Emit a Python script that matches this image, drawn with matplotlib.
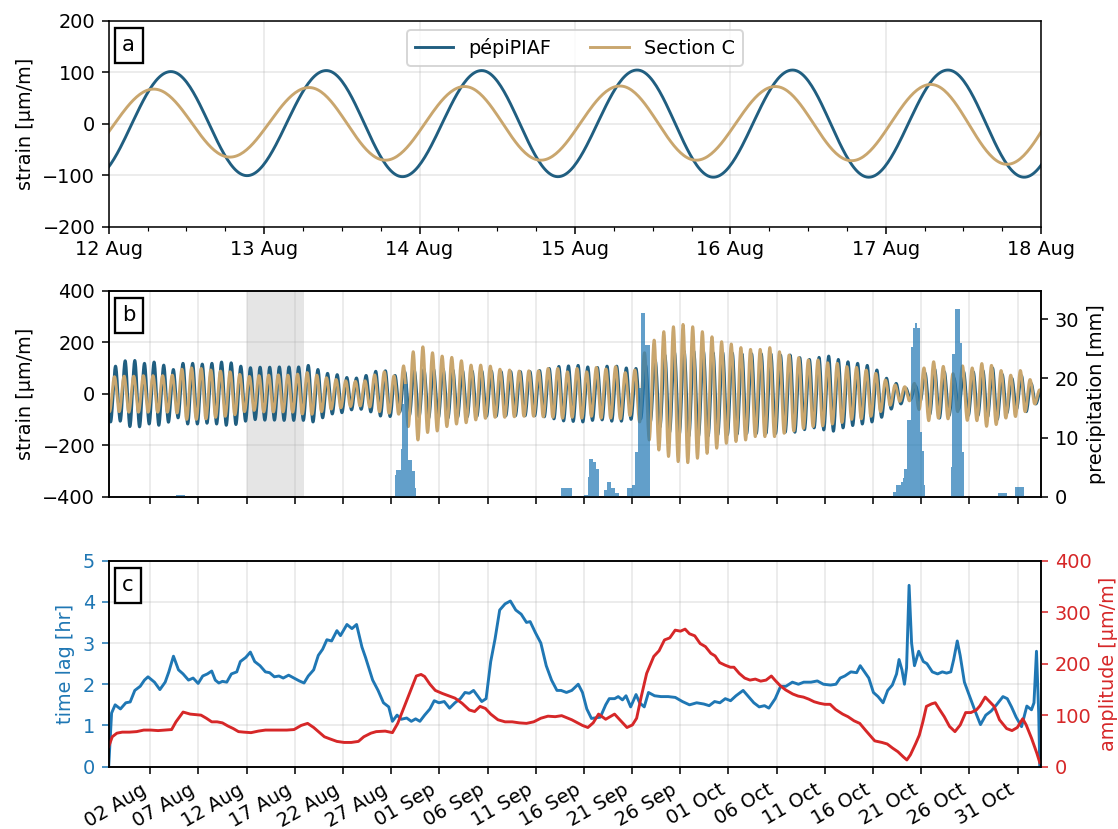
import numpy as np
import matplotlib
matplotlib.use('Agg')
import matplotlib.pyplot as plt
import matplotlib.dates as mdates

# all times are days since 2021-07-28 00:00
t0 = mdates.date2num(np.datetime64('2021-07-28T00:00'))

# daily peak / trough of the diurnal strain cycle (panel b), one value per day from 28 Jul
pepi_amp = [110, 107, 128, 129, 118, 123, 111, 94, 118, 118, 115, 118, 123, 120, 107,
            101, 103, 103, 104, 104, 104, 110, 94, 79, 74, 63, 61, 71, 87, 89,
            71, 85, 90, 95, 95, 95, 92, 90, 88, 88, 88, 86, 86, 86, 86,
            90, 98, 106, 108, 110, 104, 102, 107, 107, 100, 98, 110, 130, 150, 160,
            165, 165, 165, 160, 160, 158, 155, 155, 155, 155, 150, 150, 140, 133, 141,
            146, 133, 124, 118, 110, 92, 60, 40, 22, 30, 80, 95, 85, 60, 85,
            85, 90, 100, 75, 60, 70, 40, 12]
secc_peak = [65, 66, 68, 68, 70, 70, 70, 72, 95, 100, 98, 92, 88, 85, 75,
             67, 70, 72, 73, 72, 76, 82, 72, 62, 55, 50, 48, 50, 73, 85,
             69, 108, 163, 182, 159, 146, 141, 128, 111, 111, 107, 95, 92, 88, 89,
             89, 98, 98, 85, 98, 85, 102, 96, 105, 82, 92, 159, 208, 241, 260,
             269, 260, 241, 221, 202, 193, 179, 172, 172, 179, 163, 150, 140, 131, 131,
             120, 118, 105, 102, 92, 79, 53, 34, 27, 40, 100, 124, 106, 78, 108,
             100, 117, 110, 90, 72, 90, 55, 15]
secc_trough = [-70, -70, -72, -72, -72, -72, -72, -75, -100, -100, -98, -92, -88, -82, -70,
               -65, -71, -71, -71, -72, -79, -80, -70, -60, -55, -50, -48, -52, -70, -76,
               -80, -128, -180, -151, -145, -128, -118, -113, -102, -96, -92, -92, -90, -88, -88,
               -90, -92, -95, -92, -95, -88, -95, -95, -98, -85, -110, -180, -219, -244, -264,
               -268, -251, -232, -212, -193, -186, -180, -167, -167, -167, -154, -145, -135, -128, -125,
               -118, -112, -100, -98, -88, -70, -45, -30, -28, -62, -105, -95, -98, -70, -104,
               -105, -127, -120, -95, -89, -70, -40, -10]

# precipitation (24 h sums) as steps: start, end, value
rain_start = [7.67, 30.35, 30.52, 30.97, 31.10, 31.30, 31.75, 32.20, 32.45, 47.65,
              50.00, 50.45, 50.55, 50.95, 51.30, 52.07, 52.40, 52.85, 53.20,
              54.45, 55.00, 55.30, 55.65, 55.95, 56.30,
              82.08, 82.36, 82.87, 83.08, 83.22, 83.57, 83.98, 84.19, 84.33, 84.42, 84.46, 84.54, 84.88, 85.09, 85.30,
              88.05, 88.20, 88.50, 89.00, 89.20, 92.92, 94.70]
rain_end = [8.60, 30.52, 30.97, 31.10, 31.30, 31.75, 32.20, 32.45, 32.60, 48.76,
            50.45, 50.55, 50.95, 51.30, 51.55, 52.40, 52.85, 53.20, 53.60,
            55.00, 55.30, 55.65, 55.95, 56.30, 56.90,
            82.36, 82.87, 83.08, 83.22, 83.57, 83.98, 84.19, 84.33, 84.42, 84.46, 84.54, 84.88, 85.09, 85.30, 85.37,
            88.20, 88.50, 89.00, 89.20, 89.47, 93.90, 95.70]
rain_mm = [0.25, 3.6, 4.5, 8.1, 15.6, 19.1, 6.2, 4.4, 1.5, 1.5,
           0.35, 3.3, 6.4, 5.9, 4.6, 1.1, 2.4, 1.4, 0.7,
           1.4, 2.0, 7.6, 18.3, 31.0, 25.7,
           0.85, 1.9, 2.4, 3.1, 4.7, 13.0, 25.3, 28.5, 29.3, 35.0, 29.3, 28.5, 10.9, 7.8, 1.9,
           5.0, 24.2, 31.7, 26.0, 7.5, 0.7, 1.6]

# panel c: time lag [hr]
lag_t = [0.69, 0.99, 1.36, 1.91, 2.47, 2.92, 3.40, 3.96, 4.40, 4.77, 5.44, 6.00, 6.55, 6.93, 7.41,
         7.93, 8.41, 8.97, 9.45, 9.97, 10.45, 10.93, 11.38, 11.75, 12.12, 12.49, 12.94, 13.42, 13.98, 14.35,
         14.91, 15.39, 15.84, 16.39, 16.95, 17.39, 17.88, 18.36, 18.80, 19.36, 19.92, 20.47, 20.96, 21.40, 21.96,
         22.44, 22.89, 23.33, 23.82, 24.37, 24.74, 25.41, 25.93, 26.41, 26.97, 27.34, 28.08, 28.64, 29.20, 29.75,
         30.13, 30.61, 31.05, 31.61, 32.09, 32.54, 32.98, 33.47, 34.02, 34.47, 34.95, 35.51, 36.06, 36.62, 37.18,
         37.66, 38.11, 38.55, 39.03, 39.40, 39.85, 40.33, 40.78, 41.26, 41.82, 42.37, 42.93, 43.49, 44.04, 44.42,
         44.97, 45.53, 46.09, 46.64, 47.20, 47.63, 48.19, 48.74, 49.41, 49.85, 50.30, 50.78, 51.70, 52.26, 52.63,
         53.19, 53.56, 54.00, 54.37, 54.85, 55.41, 55.78, 56.26, 56.70, 57.33, 58.00, 58.74, 59.48, 60.22, 60.96,
         61.70, 62.44, 63.00, 63.56, 64.11, 64.67, 65.22, 65.78, 66.52, 67.07, 67.63, 68.19, 68.74, 69.19, 69.85,
         70.41, 70.96, 71.63, 72.26, 72.81, 73.56, 74.22, 74.85, 75.59, 76.15, 76.59, 77.07, 77.70, 78.30, 78.67,
         79.11, 79.56, 80.04, 80.52, 81.04, 81.52, 82.00, 82.44, 82.70, 83.00, 83.26, 83.48, 83.74, 84.00, 84.30,
         84.74, 85.22, 85.59, 86.15, 86.70, 87.19, 87.63, 88.07, 88.37, 88.74, 89.04, 89.48, 90.04, 90.59, 91.15,
         91.70, 92.26, 92.81, 93.48, 93.93, 94.37, 94.85, 95.41, 95.96, 96.44, 96.70, 96.96, 97.19, 97.30]
lag_hr = [0.0, 1.3, 1.5, 1.4, 1.55, 1.57, 1.85, 1.95, 2.1, 2.18, 2.05, 1.87, 2.05, 2.3, 2.68,
          2.35, 2.25, 2.1, 2.15, 2.02, 2.2, 2.25, 2.32, 2.1, 2.03, 2.07, 2.05, 2.25, 2.3, 2.55,
          2.65, 2.78, 2.55, 2.45, 2.3, 2.28, 2.18, 2.2, 2.15, 2.22, 2.15, 2.08, 2.03, 2.2, 2.35,
          2.7, 2.85, 3.08, 3.05, 3.3, 3.18, 3.45, 3.35, 3.45, 2.9, 2.65, 2.1, 1.85, 1.55, 1.45,
          1.1, 1.25, 1.15, 1.18, 1.1, 1.16, 1.1, 1.25, 1.4, 1.6, 1.55, 1.58, 1.42, 1.55, 1.65,
          1.8, 1.78, 1.85, 1.7, 1.58, 1.65, 2.55, 3.1, 3.8, 3.95, 4.02, 3.8, 3.7, 3.5, 3.52,
          3.25, 3.0, 2.45, 2.1, 1.85, 1.85, 1.8, 1.85, 2.0, 1.8, 1.4, 1.17, 1.2, 1.5, 1.65,
          1.65, 1.7, 1.62, 1.72, 1.45, 1.75, 1.55, 1.45, 1.8, 1.72, 1.7, 1.7, 1.68, 1.58, 1.5,
          1.55, 1.52, 1.48, 1.58, 1.55, 1.65, 1.6, 1.72, 1.85, 1.7, 1.55, 1.45, 1.48, 1.42, 1.65,
          1.95, 1.95, 2.05, 2.0, 2.05, 2.05, 2.08, 2.0, 1.98, 2.0, 2.15, 2.2, 2.3, 2.28, 2.45,
          2.3, 2.15, 1.8, 1.7, 1.55, 1.85, 1.98, 2.25, 2.6, 2.35, 2.0, 2.4, 4.4, 3.0, 2.45,
          2.8, 2.55, 2.5, 2.3, 2.25, 2.3, 2.27, 2.3, 2.6, 3.05, 2.7, 2.05, 1.7, 1.35, 1.02,
          1.25, 1.35, 1.5, 1.7, 1.65, 1.45, 1.2, 0.97, 1.47, 1.38, 1.55, 2.8, 1.3, 0.0]

# panel c: amplitude [um/m]
amp_t = [0.69, 1.06, 1.54, 2.10, 2.84, 3.59, 4.33, 5.07, 5.81, 6.55, 7.22, 7.67, 8.41, 9.15, 9.71,
         10.27, 10.82, 11.38, 11.94, 12.49, 13.05, 13.61, 14.16, 14.72, 15.46, 16.21, 16.95, 17.69, 18.43, 19.18,
         19.92, 20.66, 21.33, 21.96, 22.52, 23.07, 23.63, 24.37, 25.11, 25.86, 26.60, 27.16, 27.90, 28.45, 29.38,
         30.13, 30.68, 31.43, 32.17, 32.61, 33.10, 33.47, 34.02, 34.58, 35.32, 36.06, 36.62, 37.36, 38.11, 38.66,
         39.22, 39.78, 40.33, 41.08, 41.82, 42.56, 43.30, 44.04, 44.79, 45.53, 46.27, 47.02, 47.69, 48.74, 49.85,
         50.41, 50.96, 51.52, 52.26, 53.18, 53.92, 54.47, 55.03, 55.47, 55.95, 56.51, 57.25, 57.80, 58.36, 58.91,
         59.47, 60.02, 60.50, 60.95, 61.50, 62.06, 62.61, 63.17, 63.61, 64.09, 64.65, 65.20, 65.57, 66.12, 66.68,
         67.23, 67.79, 68.34, 68.90, 69.45, 69.82, 70.38, 70.93, 71.67, 72.23, 72.78, 73.34, 73.89, 74.45, 75.00,
         75.55, 76.11, 76.85, 77.40, 78.03, 78.62, 79.25, 79.81, 80.18, 80.92, 81.47, 82.03, 82.58, 83.14, 83.51,
         83.88, 84.43, 84.80, 85.17, 85.54, 86.09, 86.46, 86.83, 87.39, 87.94, 88.50, 89.05, 89.61, 90.16, 90.72,
         91.09, 91.64, 92.20, 92.57, 93.12, 93.86, 94.42, 94.97, 95.53, 95.89, 96.45, 97.00, 97.30]
amp_um = [39, 58, 65, 67, 67, 68, 71, 71, 70, 71, 72, 87, 106, 102, 101,
          100, 94, 87, 87, 85, 79, 74, 68, 67, 66, 69, 71, 71, 71, 71,
          72, 80, 84, 76, 67, 58, 54, 49, 47, 47, 49, 58, 65, 68, 69,
          66, 84, 120, 155, 176, 179, 175, 160, 148, 142, 137, 133, 123, 110, 107,
          117, 113, 102, 91, 87, 87, 85, 84, 87, 94, 98, 97, 99, 91, 80,
          76, 85, 102, 92, 102, 87, 76, 81, 94, 136, 181, 214, 225, 246, 250,
          265, 263, 267, 258, 254, 239, 233, 220, 215, 202, 197, 193, 193, 181, 172,
          168, 170, 166, 168, 176, 168, 157, 149, 141, 137, 135, 131, 126, 123, 121,
          121, 111, 102, 97, 89, 84, 70, 58, 50, 47, 44, 36, 29, 19, 13,
          23, 45, 61, 87, 117, 122, 124, 113, 97, 78, 68, 81, 105, 105, 110,
          118, 135, 124, 117, 91, 74, 70, 76, 93, 81, 55, 26, 8]

c_pepi = '#205e80'
c_secc = '#c9a66e'


def diurnal(t, peaks, troughs, peak_at, trough_at):
    # half cosine between successive daily extremes
    days = np.arange(len(peaks))
    te = np.concatenate([days + peak_at, days + trough_at])
    ve = np.concatenate([peaks, troughs])
    o = np.argsort(te)
    te, ve = te[o], ve[o]
    k = np.clip(np.searchsorted(te, t) - 1, 0, len(te) - 2)
    f = np.clip((t - te[k]) / (te[k + 1] - te[k]), 0, 1)
    return ve[k + 1] + (ve[k] - ve[k + 1]) * (1 + np.cos(np.pi * f)) / 2


tt = np.arange(0.69, 97.45, 1 / 96)
pepi = diurnal(tt, np.array(pepi_amp), -np.array(pepi_amp), 0.40, 0.89)
secc = diurnal(tt, np.array(secc_peak), np.array(secc_trough), 0.29, 0.78)
x = t0 + tt

fig = plt.figure(figsize=(8.045, 5.965), dpi=139)
L, W = 0.0972, 0.8339
ax_a = fig.add_axes([L, 0.7265, W, 0.2485])
ax_b = fig.add_axes([L, 0.4008, W, 0.2485])
ax_c = fig.add_axes([L, 0.0752, W, 0.2485])

box = dict(boxstyle='square,pad=0.35', fc='white', ec='black', lw=1.2)

# panel a
ax_a.plot(x, pepi, c=c_pepi, lw=1.5, label='pépiPIAF')
ax_a.plot(x, secc, c=c_secc, lw=1.5, label='Section C')
ax_a.set_xlim(t0 + 15, t0 + 21)
ax_a.set_ylim(-200, 200)
ax_a.set_yticks([-200, -100, 0, 100, 200])
ax_a.xaxis.set_major_locator(mdates.DayLocator())
ax_a.xaxis.set_minor_locator(mdates.HourLocator(byhour=[6, 12, 18]))
ax_a.xaxis.set_major_formatter(mdates.DateFormatter('%d %b'))
ax_a.set_ylabel('strain [µm/m]')
ax_a.grid(True, alpha=0.3)
ax_a.legend(loc='upper center', ncol=2)
ax_a.annotate('a', xy=(0, 1), xycoords='axes fraction', xytext=(7, -7.5),
              textcoords='offset points', ha='left', va='top', fontsize=11, bbox=box)

ticks = t0 + np.arange(5, 98, 5)

# panel b
ax_b.axvspan(t0 + 15, t0 + 21, color='gray', alpha=0.2, lw=0)
ax_b.plot(x, pepi, c=c_pepi, lw=1.5)
ax_b.plot(x, secc, c=c_secc, lw=1.5)
ax_b.set_ylim(-400, 400)
ax_b.set_yticks([-400, -200, 0, 200, 400])
ax_b.set_xticks(ticks)
ax_b.set_xlim(t0 + 0.69, t0 + 97.45)
ax_b.tick_params(labelbottom=False)
ax_b.set_ylabel('strain [µm/m]')
ax_b.grid(True, alpha=0.3)
ax_b2 = ax_b.twinx()
rs = np.array(rain_start)
ax_b2.bar(t0 + rs, rain_mm, width=np.array(rain_end) - rs, align='edge',
          color='tab:blue', alpha=0.7, lw=0)
ax_b2.set_ylim(0, 34.85)
ax_b2.set_yticks([0, 10, 20, 30])
ax_b2.set_ylabel('precipitation [mm]')
ax_b2.annotate('b', xy=(0, 1), xycoords='axes fraction', xytext=(7, -7.5),
               textcoords='offset points', ha='left', va='top', fontsize=11, bbox=box)

# panel c
ax_c.plot(t0 + np.array(lag_t), lag_hr, c='tab:blue', lw=1.5)
ax_c.set_ylim(0, 5)
ax_c.set_ylabel('time lag [hr]', color='tab:blue')
ax_c.tick_params(axis='y', colors='tab:blue')
ax_c.set_xticks(ticks)
ax_c.xaxis.set_major_formatter(mdates.DateFormatter('%d %b'))
ax_c.set_xlim(t0 + 0.69, t0 + 97.45)
ax_c.grid(True, alpha=0.3)
plt.setp(ax_c.get_xticklabels(), rotation=30, ha='right')
ax_c2 = ax_c.twinx()
ax_c2.plot(t0 + np.array(amp_t), amp_um, c='tab:red', lw=1.5)
ax_c2.set_ylim(0, 400)
ax_c2.set_ylabel('amplitude [µm/m]', color='tab:red')
ax_c2.tick_params(axis='y', colors='tab:red')
ax_c2.annotate('c', xy=(0, 1), xycoords='axes fraction', xytext=(7, -7.5),
               textcoords='offset points', ha='left', va='top', fontsize=11, bbox=box)

fig.savefig('out.png', dpi=139)
